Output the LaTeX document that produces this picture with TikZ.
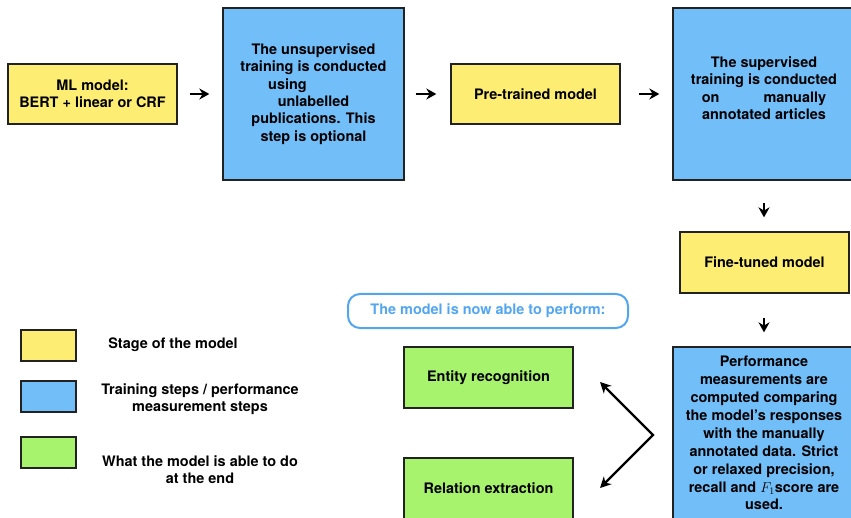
\documentclass[tikz,border=0pt]{standalone}
\usepackage{fontspec}
\setmainfont{TeX Gyre Heros}
\usetikzlibrary{arrows.meta}

\definecolor{stageyellow}{HTML}{FDEE73}
\definecolor{trainblue}{HTML}{72BEF9}
\definecolor{taskgreen}{HTML}{A7F36E}
\definecolor{labelblue}{HTML}{52A6F0}
\definecolor{boxline}{HTML}{222222}

\tikzset{
  anybox/.style={draw=boxline, line width=1.3bp, align=center, inner sep=0pt,
    font=\fontsize{14.5}{17.5}\selectfont\bfseries},
  stagebox/.style={anybox, fill=stageyellow, minimum width=169bp, minimum height=60bp},
  trainbox/.style={anybox, fill=trainblue, minimum width=182bp, minimum height=172bp},
  taskbox/.style={anybox, fill=taskgreen, minimum width=169bp, minimum height=61bp},
  legendbox/.style={draw=boxline, line width=1.3bp, minimum width=55bp, minimum height=31bp},
  legendtext/.style={align=center, font=\fontsize{14.5}{17}\selectfont\bfseries},
  flowarrow/.style={-{Stealth[length=10bp,width=11bp]}, line width=2.6bp, black},
}

\begin{document}
\begin{tikzpicture}[x=1bp,y=-1bp]
  \useasboundingbox (0,0) rectangle (851,518);
  \clip (0,0) rectangle (851,518);

  \node[stagebox] (mlmodel) at (92.5,94) {ML model:\\BERT + linear or CRF};
  \node[trainbox, minimum width=181bp] (unsup) at (313.5,94)
    {The unsupervised\\training is conducted\\\mbox{using\hspace{52bp}}\\unlabelled\\publications. This\\step is optional};
  \node[stagebox] (pretrained) at (535.5,94) {Pre-trained model};
  \node[trainbox] (sup) at (764,94)
    {The supervised\\training is conducted\\on\rule{44bp}{0pt}manually\\annotated articles\\[-6bp]};
  \node[stagebox, minimum height=61bp] (finetuned) at (764.5,262.5) {Fine-tuned model};
  \node[trainbox, font=\fontsize{14.5}{18}\selectfont\bfseries] (perf) at (764,433)
    {Performance\\measurements are\\computed comparing\\the model’s responses\\with the manually\\annotated data. Strict\\or relaxed precision,\\recall and $F_1$score are\\used.};

  \node[draw=labelblue, line width=2bp, rounded corners=12bp, minimum width=280bp,
    minimum height=34bp, text=labelblue, font=\fontsize{14.5}{17}\selectfont\bfseries]
    (ableto) at (488,311) {The model is now able to perform:};
  \node[taskbox] (entity) at (488.5,377.5) {Entity recognition};
  \node[taskbox] (relation) at (488.5,488.5) {Relation extraction};

  \node[legendbox, fill=stageyellow] (legstage) at (48.5,345.5) {};
  \node[legendbox, fill=trainblue] (legtrain) at (48.5,396.5) {};
  \node[legendbox, fill=taskgreen] (legtask) at (48.5,452.5) {};
  \node[legendtext] (legstagetxt) at (173,345) {Stage of the model};
  \node[legendtext] (legtraintxt) at (200,399.5) {Training steps / performance\\measurement steps};
  \node[legendtext] (legtasktxt) at (200,469.5) {What the model is able to do\\at the end};

  \draw[flowarrow, shorten <=12bp, shorten >=13bp] (mlmodel.east |- 0,94) -- (unsup.west |- 0,94);
  \draw[flowarrow, shorten <=11bp, shorten >=14bp] (unsup.east |- 0,94) -- (pretrained.west |- 0,94);
  \draw[flowarrow, shorten <=18bp, shorten >=13bp] (pretrained.east |- 0,94) -- (sup.west |- 0,94);
  \draw[flowarrow, shorten <=23bp, shorten >=14bp] (sup.south |- 0,180) -- (finetuned.north -| 764,0);
  \draw[flowarrow, shorten <=24bp, shorten >=14bp] (finetuned.south -| 764,0) -- (perf.north -| 764,0);

  \coordinate (fork) at (653,435);
  \coordinate (entitytip) at (600,382);
  \coordinate (relationtip) at (600,488);
  \draw[flowarrow, line width=2.2bp, {Stealth[length=11bp,width=11bp]}-{Stealth[length=11bp,width=11bp]}, line join=miter]
    (entitytip) -- (fork) -- (relationtip);
\end{tikzpicture}
\end{document}
